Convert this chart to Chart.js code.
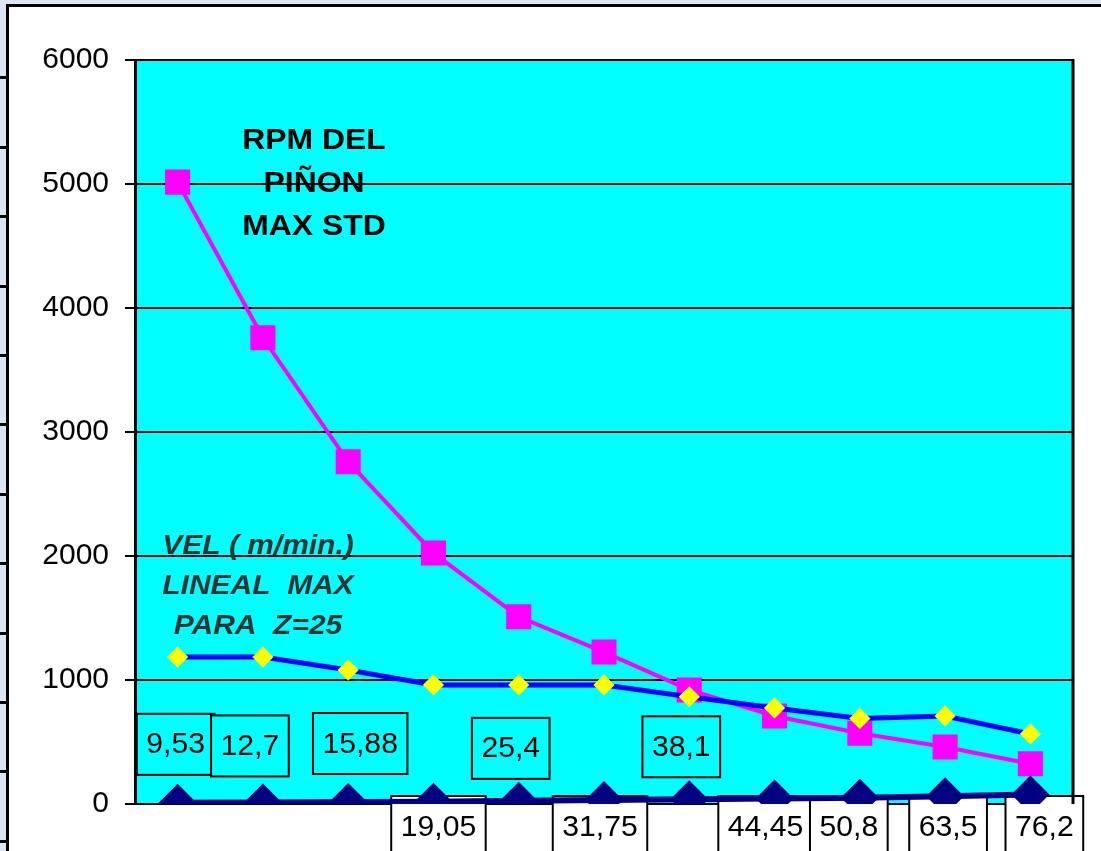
<!DOCTYPE html>
<html>
<head>
<meta charset="utf-8">
<script src="https://cdn.jsdelivr.net/npm/chart.js@4"></script>
<style>
  html, body { margin: 0; padding: 0; width: 1101px; height: 851px; overflow: hidden; background: #dae6f3; }
  #page { position: absolute; left: 6px; top: 4px; width: 1095px; height: 847px;
          border-left: 3px solid #000; border-top: 3px solid #000; background: #fff; }
  #page canvas { display: block; }
  .notch { position: absolute; left: 0; width: 7px; height: 3px; background: #000; }
</style>
</head>
<body>
<div id="page"><canvas id="chart" width="1095" height="847"></canvas></div>
<script>
// chain pitch (mm) on the category axis
const categories = ['9,53', '12,7', '15,88', '19,05', '25,4', '31,75', '38,1', '44,45', '50,8', '63,5', '76,2'];
const pitchValues = [9.53, 12.7, 15.88, 19.05, 25.4, 31.75, 38.1, 44.45, 50.8, 63.5, 76.2];
const rpmMaxStd = [5015, 3760, 2760, 2025, 1510, 1225, 920, 710, 570, 460, 325];
const velLinealMax = [1185, 1185, 1080, 960, 960, 960, 865, 775, 690, 710, 565];
const yTicks = [0, 1000, 2000, 3000, 4000, 5000, 6000];

// little marks on the page frame at the left
for (let k = 1; k < 13; k++) {
    const n = document.createElement('div');
    n.className = 'notch';
    n.style.top = Math.round(7 + 69.4 * k) + 'px';
    document.body.appendChild(n);
}

const FONT = '"Liberation Sans", Arial, sans-serif';

// text a bit wider than the font, like the stretched original
function wideText(ctx, txt, x, y, sx) {
    ctx.save();
    ctx.translate(x, y);
    ctx.scale(sx, 1);
    ctx.fillText(txt, 0, 0);
    ctx.restore();
}

const plotBackground = {
    id: 'plotBackground',
    beforeDraw(chart) {
        const { ctx, chartArea: a } = chart;
        ctx.save();
        ctx.fillStyle = '#00ffff';
        ctx.fillRect(a.left, a.top, a.right - a.left, a.bottom - a.top);
        ctx.restore();
    },
    afterDraw(chart) {
        const { ctx, chartArea: a } = chart;
        ctx.save();
        ctx.strokeStyle = '#000';
        ctx.lineWidth = 3;
        ctx.beginPath();
        ctx.moveTo(a.right, a.top - 1);
        ctx.lineTo(a.right, a.bottom);
        ctx.stroke();
        ctx.restore();
    }
};

const notes = {
    id: 'notes',
    beforeDatasetsDraw(chart) {
        const { ctx, chartArea: a } = chart;
        ctx.save();
        ctx.textAlign = 'center';
        ctx.textBaseline = 'middle';
        ctx.fillStyle = '#000';
        ctx.font = 'bold 29px ' + FONT;
        ['RPM DEL', 'PIÑON', 'MAX STD'].forEach((t, i) => {
            wideText(ctx, t, a.left + 179, a.top + 81 + i * 43, 1.1);
        });
        ctx.fillStyle = '#333';
        ctx.font = 'italic bold 28px ' + FONT;
        ['VEL ( m/min.)', 'LINEAL  MAX', 'PARA  Z=25'].forEach((t, i) => {
            wideText(ctx, t, a.left + 123, a.top + 486 + i * 40, 1.07);
        });
        ctx.restore();
    }
};

// boxed value labels on the pitch series
const pitchLabels = {
    id: 'pitchLabels',
    beforeDatasetsDraw(chart, args, opts) {
        const { ctx, chartArea: a } = chart;
        const meta = chart.getDatasetMeta(0);
        const values = chart.data.datasets[0].data;
        ctx.save();
        ctx.font = '29px ' + FONT;
        ctx.textAlign = 'center';
        ctx.textBaseline = 'middle';
        meta.data.forEach((pt, i) => {
            const txt = String(values[i]).replace('.', ',');
            const w = ctx.measureText(txt).width * 1.04 + 19;
            const h = 61;
            const cx = pt.x + opts.shift[i];
            const top = opts.above[i] ? pt.y - 22 - h + opts.lift[i] : a.bottom - 8;
            ctx.fillStyle = opts.above[i] ? '#00ffff' : '#fff';
            ctx.fillRect(cx - w / 2, top, w, h);
            ctx.strokeStyle = '#000';
            ctx.lineWidth = 2;
            ctx.strokeRect(cx - w / 2, top, w, h);
            ctx.fillStyle = '#000';
            wideText(ctx, txt, cx, top + h / 2 + 1, 1.04);
        });
        ctx.restore();
    }
};

new Chart(document.getElementById('chart'), {
    type: 'line',
    data: {
        labels: categories,
        datasets: [{
            label: 'PASO',
            data: pitchValues,
            borderColor: '#000080',
            borderWidth: 6,
            pointStyle: 'rectRot',
            pointRadius: 19,
            pointBackgroundColor: '#000080',
            pointBorderWidth: 0,
            tension: 0,
        }, {
            label: 'VEL ( m/min.) LINEAL MAX PARA Z=25',
            data: velLinealMax,
            borderColor: '#0000ff',
            borderWidth: 5,
            pointStyle: 'rectRot',
            pointRadius: 10.6,
            pointBackgroundColor: '#ffff00',
            pointBorderWidth: 0,
            tension: 0,
        }, {
            label: 'RPM DEL PIÑON MAX STD',
            data: rpmMaxStd,
            borderColor: '#ff00ff',
            borderWidth: 4,
            pointStyle: 'rect',
            pointRadius: 17.7,
            pointBackgroundColor: '#ff00ff',
            pointBorderWidth: 0,
            tension: 0,
        }]
    },
    options: {
        responsive: false,
        animation: false,
        events: [],
        layout: { padding: { top: 53, right: 31, bottom: 50, left: 0 } },
        plugins: {
            legend: { display: false },
            tooltip: { enabled: false },
            pitchLabels: {
                above: [true, true, true, false, true, false, true, false, false, false, false],
                shift: [-2, -13, 12, 5, -8, -4, -8, -9, -11, 3, 14],
                lift: [-6, -4, -6, 0, 0, 0, 0, 0, 0, 0, 0]
            }
        },
        scales: {
            x: {
                display: false,
                offset: true,
            },
            y: {
                min: 0,
                max: 6000,
                afterBuildTicks: (s) => { s.ticks = yTicks.map(v => ({ value: v })); },
                afterFit: (s) => { s.width = 126; },
                ticks: {
                    color: '#000',
                    padding: 16,
                    font: { family: FONT, size: 30 },
                    callback: (v) => String(v),
                },
                grid: {
                    color: '#000',
                    lineWidth: 2,
                    tickLength: 10,
                },
                border: { color: '#000', width: 3 },
            }
        }
    },
    plugins: [plotBackground, notes, pitchLabels]
});
</script>
</body>
</html>
